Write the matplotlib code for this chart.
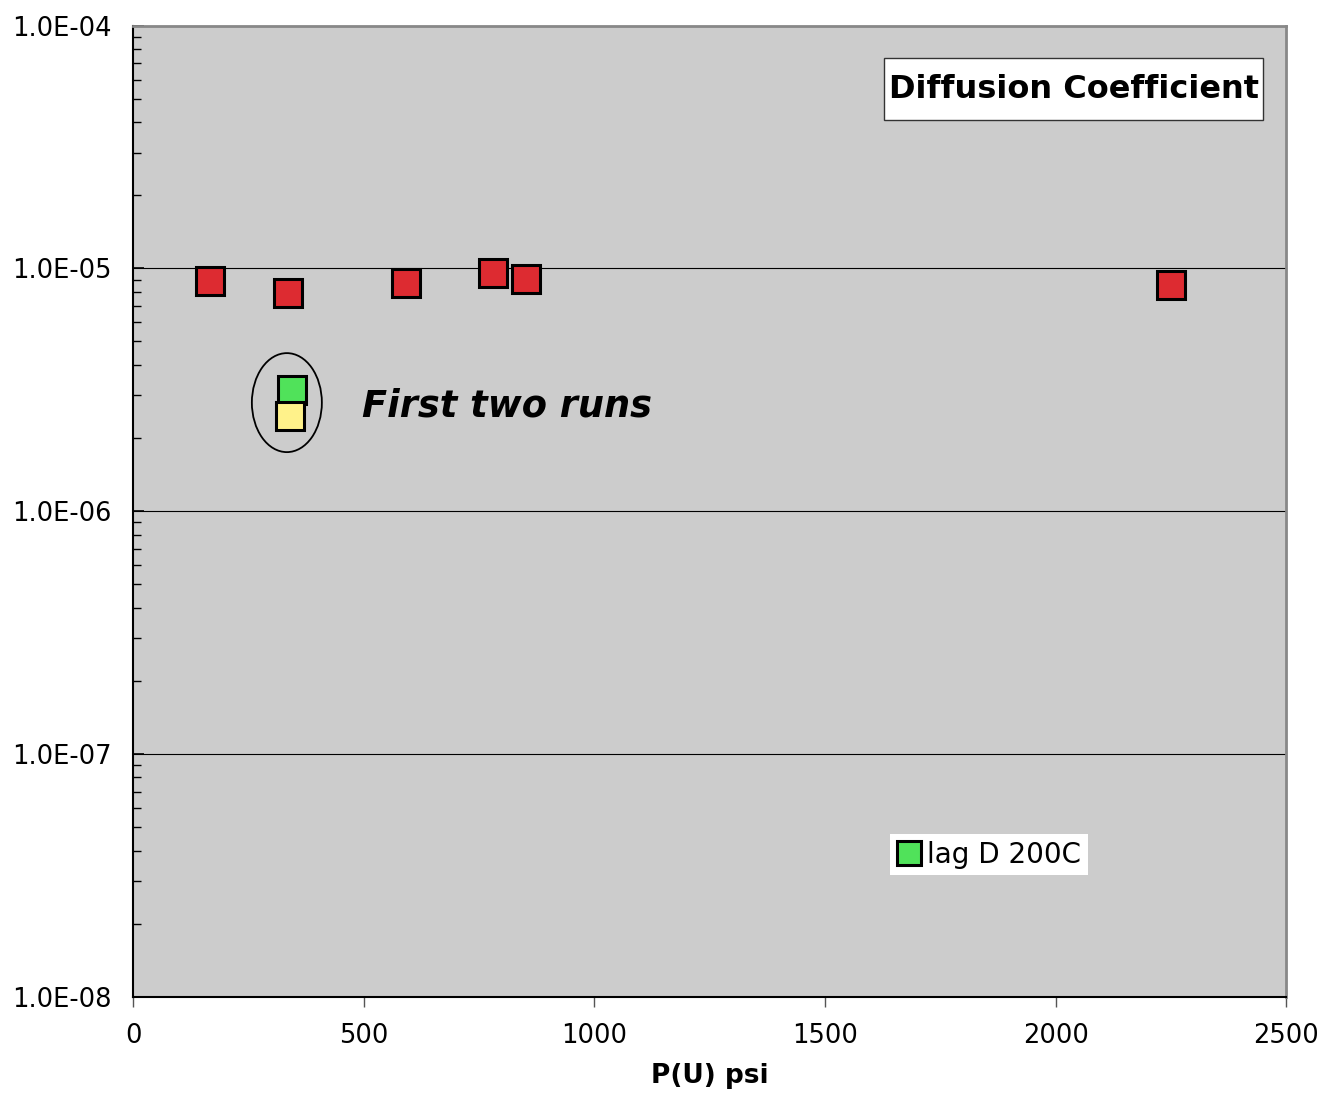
import numpy as np
import matplotlib.pyplot as plt
from matplotlib.patches import Ellipse, Rectangle
from matplotlib.ticker import LogLocator, FuncFormatter, NullFormatter
from matplotlib.transforms import ScaledTranslation

# upstream pressure (psi) and diffusion coefficient for the 200C runs
p_main = [166, 336, 592, 781, 851, 2251]
d_main = [8.85e-6, 7.94e-6, 8.73e-6, 9.58e-6, 9.07e-6, 8.55e-6]

# first two runs
p_first = [345]
d_first = [3.17e-6]
p_second = [339]
d_second = [2.46e-6]

legend_label = "lag D 200C"
note_text = "First two runs"
title_text = "Diffusion Coefficient"

fig = plt.figure(figsize=(13.21, 10.96), dpi=100)
ax = fig.add_axes([0.1009, 0.0906, 0.8728, 0.8860])
ax.set_facecolor("#cccccc")

mk = dict(marker="s", linestyle="none", markersize=19.5, markeredgewidth=2.2,
          markeredgecolor="black")
ax.plot(p_main, d_main, color="#dd2b31", **mk)
ax.plot(p_first, d_first, color="#50e25a", label=legend_label, **mk)
ax.plot(p_second, d_second, color="#fff28a", **mk)

ax.set_yscale("log")
ax.set_xlim(0, 2500)
ax.set_ylim(1e-8, 1e-4)
ax.set_xticks(np.arange(0, 2501, 500))

ax.yaxis.set_major_locator(LogLocator(base=10, numticks=10))
ax.yaxis.set_minor_locator(LogLocator(base=10, subs=np.arange(2, 10), numticks=10))
ax.yaxis.set_major_formatter(FuncFormatter(lambda v, pos: f"{v:.1E}"))
ax.yaxis.set_minor_formatter(NullFormatter())

ax.grid(True, which="major", axis="y", color="black", linewidth=0.8)
ax.tick_params(axis="y", which="major", direction="in", length=8, width=1.2,
               labelsize=18.5, pad=15.5)
ax.tick_params(axis="y", which="minor", direction="in", length=6, width=1.0)
ax.tick_params(axis="x", which="major", direction="out", length=7, width=1.0,
               color="#555555", labelsize=18.5, pad=12)

for side in ["left", "bottom"]:
    ax.spines[side].set_color("black")
    ax.spines[side].set_linewidth(1.5)
for side in ["top", "right"]:
    ax.spines[side].set_color("#888888")
    ax.spines[side].set_linewidth(2)

ax.set_xlabel("P(U) psi", fontsize=19, fontweight="bold", labelpad=10)

# ellipse around the first two runs, sized in inches
ring = Ellipse((0, 0), 0.70, 0.99, fill=False, edgecolor="black", linewidth=1.3,
               transform=fig.dpi_scale_trans + ScaledTranslation(333, 2.8e-6, ax.transData))
ax.add_patch(ring)

ax.text(495, 2.45e-6, note_text, fontsize=26.5, fontweight="bold", style="italic",
        va="baseline", ha="left")

# title box in the upper right corner
ax.add_patch(Rectangle((0.651, 0.9029), 0.329, 0.0635, transform=ax.transAxes,
                       facecolor="white", edgecolor="#333333", linewidth=1, zorder=4))
ax.text(0.8155, 0.9346, title_text, transform=ax.transAxes, fontsize=23,
        fontweight="bold", ha="center", va="center", zorder=5)

leg = ax.legend(loc="upper left", bbox_to_anchor=(0.656, 0.168), fontsize=20,
                frameon=True, fancybox=False, framealpha=1, edgecolor="none",
                borderaxespad=0, borderpad=0.25, handletextpad=0.2,
                handlelength=0.9, markerscale=0.85)

fig.savefig("out.png", dpi=100)
